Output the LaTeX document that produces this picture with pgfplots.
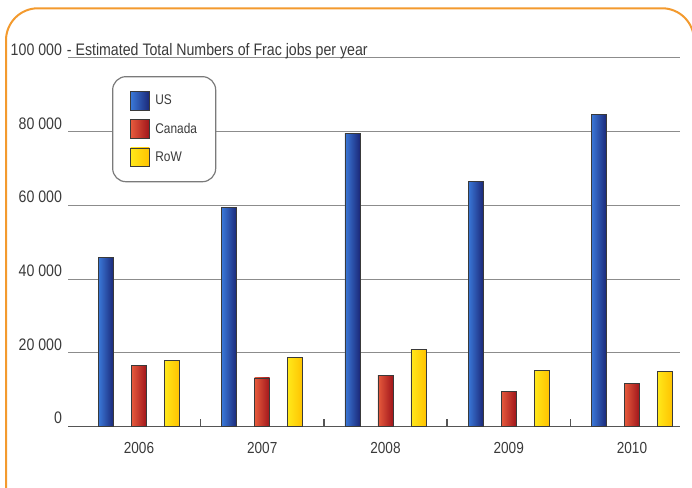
\documentclass[border=0pt]{standalone}
\usepackage{fontspec}
\setmainfont{Liberation Sans}[FakeStretch=0.85]
\usepackage{pgfplots}
\pgfplotsset{compat=1.18}

\definecolor{frameorange}{HTML}{F39A2E}
\definecolor{txt}{HTML}{3A3A3A}
\definecolor{gridgray}{HTML}{8C8C8C}
\definecolor{axgray}{HTML}{555555}
\definecolor{leggray}{HTML}{7A7A7A}
\definecolor{barline}{HTML}{3A3A3A}
\definecolor{usL}{HTML}{3A78D8}
\definecolor{usR}{HTML}{1B2878}
\definecolor{caL}{HTML}{E65A3C}
\definecolor{caR}{HTML}{A0151B}
\definecolor{rwL}{HTML}{FFE81A}
\definecolor{rwR}{HTML}{FFC200}

% one bar per \addplot so that every bar gets its own shading
\pgfplotsset{
  squareleg/.style={legend image code/.code={%
    \path[draw=none, fill=none, shade=none] (0pt,0pt) (18pt,0pt);
    \draw[##1, sharp corners] (1.5pt,-7pt) rectangle (15.5pt,7pt);}},
  usbar/.style={ybar, bar width=11.25pt, bar shift=-24.75pt, squareleg,
    draw=barline, line width=0.6pt, left color=usL, right color=usR},
  cabar/.style={ybar, bar width=11.25pt, bar shift=0pt, squareleg,
    draw=barline, line width=0.6pt, left color=caL, right color=caR},
  rwbar/.style={ybar, bar width=11.25pt, bar shift=24.75pt, squareleg,
    draw=barline, line width=0.6pt, left color=rwL, right color=rwR},
}

\begin{document}
\begin{tikzpicture}
\path[use as bounding box] (0,0) rectangle (519pt,366pt);
% orange frame
\draw[frameorange, line width=1.5pt, rounded corners=24pt]
  (4.5pt,0) -- (4.5pt,359.8pt) -- (520.5pt,359.8pt) -- (520.5pt,0);

\begin{axis}[
  at={(51pt,46pt)}, anchor=south west,
  scale only axis, width=459pt, height=276.5pt,
  clip=false,
  ymin=0, ymax=100000, xmin=-0.576, xmax=4.39,
  axis x line*=bottom, axis y line*=left,
  y axis line style={draw=none},
  x axis line style={draw=axgray, line width=1.2pt},
  ytick={0,20000,40000,60000,80000,100000},
  yticklabels={0,20 000,40 000,60 000,80 000,100 000},
  scaled y ticks=false,
  ytick style={draw=none},
  yticklabel style={anchor=base east, yshift=2pt, xshift=-1pt,
    font=\fontsize{12.5}{14}\selectfont},
  xtick={0,1,2,3,4},
  xticklabels={2006,2007,2008,2009,2010},
  major x tick style={draw=none},
  minor xtick={0.5,1.5,2.5,3.5},
  minor x tick style={draw=axgray, line width=1pt},
  minor tick length=6pt,
  tick align=inside,
  xticklabel style={yshift=-8pt, font=\fontsize{12}{14}\selectfont},
  ticklabel style={text=txt},
  ymajorgrids,
  grid style={draw=gridgray, line width=0.75pt},
  legend cell align=left,
  legend style={at={(rel axis cs:0.072,0.951)}, anchor=north west,
    draw=leggray, line width=0.9pt, rounded corners=10pt, fill=white,
    inner xsep=12pt, inner ysep=11pt, row sep=6.5pt,
    font=\fontsize{10.5}{12}\selectfont, text=txt},
]
% US
\addplot[usbar] coordinates {(0,46000)};
\addlegendentry{US}
\addplot[usbar, forget plot] coordinates {(1,59500)};
\addplot[usbar, forget plot] coordinates {(2,79600)};
\addplot[usbar, forget plot] coordinates {(3,66600)};
\addplot[usbar, forget plot] coordinates {(4,84800)};
% Canada
\addplot[cabar] coordinates {(0,16500)};
\addlegendentry{Canada}
\addplot[cabar, forget plot] coordinates {(1,13200)};
\addplot[cabar, forget plot] coordinates {(2,13900)};
\addplot[cabar, forget plot] coordinates {(3,9500)};
\addplot[cabar, forget plot] coordinates {(4,11800)};
% RoW
\addplot[rwbar] coordinates {(0,18000)};
\addlegendentry{RoW}
\addplot[rwbar, forget plot] coordinates {(1,18800)};
\addplot[rwbar, forget plot] coordinates {(2,20900)};
\addplot[rwbar, forget plot] coordinates {(3,15200)};
\addplot[rwbar, forget plot] coordinates {(4,15000)};

\node[anchor=base west, inner sep=0pt, text=txt, font=\fontsize{12.5}{14}\selectfont]
  at (rel axis cs:0,1) [xshift=-1pt, yshift=2pt]
  {- Estimated Total Numbers of Frac jobs per year};
\end{axis}
\end{tikzpicture}
\end{document}
